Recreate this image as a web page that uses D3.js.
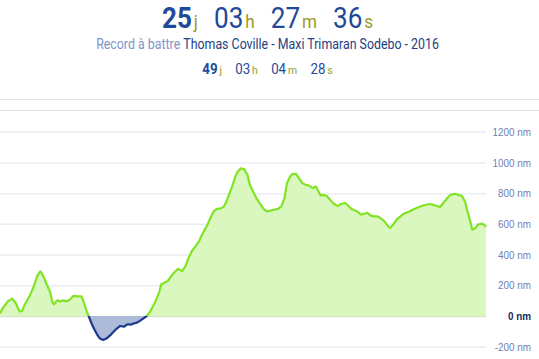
<!DOCTYPE html>
<html>
<head>
<meta charset="utf-8">
<script src="https://cdn.jsdelivr.net/npm/d3@7"></script>
<style>
  body { margin: 0; background: #fff; }
  svg { display: block; font-family: "Roboto", "Noto Sans", sans-serif; }
</style>
</head>
<body>
<div id="graph"></div>
<script>
// temps de course et record
const chrono = [["25", "j"], ["03", "h"], ["27", "m"], ["36", "s"]];
const record = [["49", "j"], ["03", "h"], ["04", "m"], ["28", "s"]];
const recordLabel = "Record à battre ";
const recordHolder = "Thomas Coville - Maxi Trimaran Sodebo - 2016";

// écart (nm) en fonction du temps de course (heures)
const hours = [0, 4, 10, 15, 19, 24, 27, 31, 37, 42, 46, 50, 52, 55, 58, 62, 65, 67, 71, 75,
  78, 83, 87, 91, 96, 101, 104, 108, 110, 114, 117, 121, 124, 128, 132, 137, 140, 145, 149, 154,
  158, 162, 167, 170, 174, 178, 182, 186, 190, 194, 198, 200, 204, 208, 211, 215, 219, 221, 226, 230,
  234, 238, 242, 247, 250, 254, 258, 261, 265, 269, 274, 278, 281, 284, 288, 292, 295, 299, 303, 307,
  310, 314, 318, 322, 327, 331, 336, 340, 345, 349, 353, 356, 360, 363, 367, 371, 375, 379, 383, 388,
  392, 394, 398, 401, 405, 409, 414, 419, 423, 428, 432, 436, 440, 443, 448, 452, 456, 460, 464, 468,
  472, 477, 481, 484, 488, 492, 497, 501, 508, 514, 520, 526, 533, 537, 541, 546, 550, 555, 559, 564,
  569, 573, 577, 580, 584, 586, 590, 593, 598, 602, 603];
const ecart = [17, 56, 97, 113, 89, 32, 30, 76, 134, 192, 259, 290, 277, 244, 205, 160, 89, 76, 102, 95,
  102, 95, 108, 131, 128, 128, 89, 24, 0, -54, -86, -125, -147, -156, -147, -125, -108, -82, -65, -69,
  -54, -56, -47, -43, -30, -15, 0, 26, 65, 108, 162, 206, 217, 227, 249, 277, 298, 307, 292, 324,
  379, 422, 450, 486, 523, 562, 601, 638, 681, 697, 701, 714, 746, 789, 843, 908, 941, 961, 956, 919,
  854, 811, 768, 736, 697, 681, 686, 692, 697, 714, 768, 865, 908, 926, 926, 898, 865, 854, 850, 833,
  843, 822, 783, 789, 783, 761, 731, 715, 729, 736, 718, 697, 688, 681, 660, 666, 671, 653, 649, 649,
  638, 616, 588, 573, 595, 627, 649, 666, 681, 697, 710, 721, 729, 725, 718, 710, 736, 768, 789, 796,
  788, 783, 746, 681, 606, 562, 573, 595, 601, 588, 580];
const yTicks = [-200, 0, 200, 400, 600, 800, 1000, 1200];

const width = 539;
const height = 359;
const plotRight = 486;
const center = 267.5;

const navy = "#1f4a98";
const olive = "#9a9a2c";
const green = "#80e324";
const greenFill = "#dbf7c0";
const blueLine = "#1b3a8c";
const blueFill = "#aebad9";

const data = hours.map((h, i) => ({ h: h, v: ecart[i] }));

const svg = d3.select('#graph')
  .append('svg')
  .attr('width', width)
  .attr('height', height);

// panneaux
svg.append('line')
  .attr('x1', 0).attr('x2', width).attr('y1', 99.5).attr('y2', 99.5)
  .attr('stroke', '#e2e2e2');
svg.append('line')
  .attr('x1', 0).attr('x2', width).attr('y1', 110.5).attr('y2', 110.5)
  .attr('stroke', '#e2e2e2');

// en-tête (police étroite simulée par un scale horizontal)
function timeLine(parts, y, numSize, unitSize, gap, squeeze) {
  let t = svg.append('text')
    .attr('transform', `translate(${center},${y}) scale(${squeeze},1)`)
    .attr('text-anchor', 'middle');
  parts.forEach((p, i) => {
    t.append('tspan')
      .attr('dx', i === 0 ? 0 : gap)
      .attr('font-size', numSize)
      .attr('font-weight', i === 0 ? 'bold' : 'normal')
      .attr('fill', navy)
      .text(p[0]);
    t.append('tspan')
      .attr('dx', 2)
      .attr('font-size', unitSize)
      .attr('fill', olive)
      .text(p[1]);
  });
}
timeLine(chrono, 28, 29, 19, 18, 0.9);
timeLine(record, 74, 14, 11, 14, 0.95);

let rec = svg.append('text')
  .attr('transform', `translate(${center},49) scale(0.885,1)`)
  .attr('text-anchor', 'middle')
  .attr('font-size', 14);
rec.append('tspan').attr('fill', '#7d95c9').text(recordLabel);
rec.append('tspan').attr('fill', '#24407f').text(recordHolder);

// échelles
let xScale = d3.scaleLinear()
  .domain([0, d3.max(hours)])
  .range([0, plotRight]);

let yScale = d3.scaleLinear()
  .domain([-200, 1200])
  .range([346.7, 131.7]);

// grille
let yAxis = d3.axisRight(yScale)
  .tickValues(yTicks)
  .tickSize(plotRight)
  .tickFormat(d => d + " nm");

let axis = svg.append('g')
  .attr('class', 'axis')
  .call(yAxis);
axis.select('.domain').remove();
axis.selectAll('line')
  .attr('stroke', d => d === 0 ? '#d5e6c8' : '#ececf4')
  .attr('stroke-width', 1.5);
axis.selectAll('text')
  .attr('x', 0)
  .attr('transform', 'translate(531,0) scale(0.86,1)')
  .attr('text-anchor', 'end')
  .attr('font-size', 11.5)
  .attr('fill', d => d === 0 ? '#1a2a5e' : '#6f7fb8')
  .attr('font-weight', d => d === 0 ? 'bold' : 'normal');

// zones positive / négative
let defs = svg.append('defs');
defs.append('clipPath').attr('id', 'clip-pos')
  .append('rect')
  .attr('x', 0).attr('y', 0)
  .attr('width', width).attr('height', yScale(0));
defs.append('clipPath').attr('id', 'clip-neg')
  .append('rect')
  .attr('x', 0).attr('y', yScale(0))
  .attr('width', width).attr('height', height - yScale(0));

let area = d3.area()
  .x(d => xScale(d.h))
  .y0(yScale(0))
  .y1(d => yScale(d.v));

let line = d3.line()
  .x(d => xScale(d.h))
  .y(d => yScale(d.v));

let chart = svg.append('g').attr('class', 'chart');

[["clip-pos", greenFill, green], ["clip-neg", blueFill, blueLine]].forEach(c => {
  let g = chart.append('g').attr('clip-path', `url(#${c[0]})`);
  g.append('path')
    .datum(data)
    .attr('fill', c[1])
    .attr('d', area);
  g.append('path')
    .datum(data)
    .attr('fill', 'none')
    .attr('stroke', c[2])
    .attr('stroke-width', 2.2)
    .attr('stroke-linejoin', 'round')
    .attr('d', line);
});
</script>
</body>
</html>
